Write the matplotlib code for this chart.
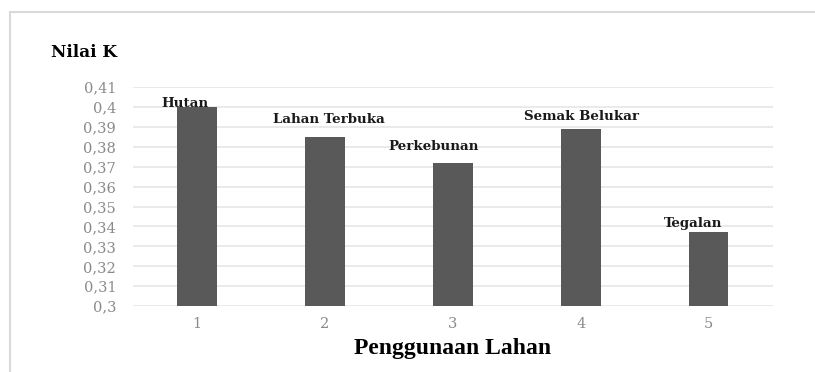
import matplotlib
matplotlib.use('Agg')
import matplotlib.pyplot as plt
from matplotlib.lines import Line2D

# data
kategori = [1, 2, 3, 4, 5]
label_bar = ['Hutan', 'Lahan Terbuka', 'Perkebunan', 'Semak Belukar', 'Tegalan']
nilai_k = [0.400, 0.385, 0.372, 0.389, 0.337]
yticks = [0.30, 0.31, 0.32, 0.33, 0.34, 0.35, 0.36, 0.37, 0.38, 0.39, 0.40, 0.41]
ytick_labels = ['0,3', '0,31', '0,32', '0,33', '0,34', '0,35', '0,36', '0,37',
                '0,38', '0,39', '0,4', '0,41']

# geseran label (posisi manual seperti di excel)
geser_x = [-0.09, 0.03, -0.15, 0.01, -0.12]
geser_y = [-0.0013, 0.0055, 0.005, 0.003, 0.001]

serif = 'Liberation Serif'
lebar = 'DejaVu Serif'

fig = plt.figure(figsize=(8.15, 3.72), dpi=100)
ax = fig.add_axes([0.163, 0.177, 0.785, 0.589])

ax.bar(kategori, [v - 0.3 for v in nilai_k], bottom=0.3, width=0.31,
       color='#595959', zorder=3)

# label kategori di atas batang
for x, v, t, dx, dy in zip(kategori, nilai_k, label_bar, geser_x, geser_y):
    ax.text(x + dx, v + dy, t, ha='center', va='bottom', fontsize=9.6,
            fontweight='bold', family=lebar, color='#1a1a1a', zorder=4)

ax.set_xlim(0.5, 5.5)
ax.set_ylim(0.3, 0.41)
ax.set_yticks(yticks)
ax.set_yticklabels(ytick_labels)
ax.set_xticks(kategori)
ax.tick_params(length=0, labelsize=10.5, labelcolor='#8a8a8a')
for lb in ax.get_xticklabels() + ax.get_yticklabels():
    lb.set_family(lebar)
ax.tick_params(axis='x', pad=8)
ax.tick_params(axis='y', pad=12)

ax.grid(axis='y', color='#e6e6e6', linewidth=1.2, zorder=0)
for s in ax.spines.values():
    s.set_visible(False)

ax.set_xlabel('Penggunaan Lahan', fontsize=17, fontweight='bold',
              family=serif, labelpad=5)
fig.text(0.062, 0.86, 'Nilai K', fontsize=12.2, fontweight='bold',
         family=lebar, ha='left', va='center')

# bingkai tipis
fig.add_artist(Line2D([0.012, 1.0], [0.967, 0.967], transform=fig.transFigure,
                      color='#d9d9d9', linewidth=1.5))
fig.add_artist(Line2D([0.012, 0.012], [0.0, 0.967], transform=fig.transFigure,
                      color='#d9d9d9', linewidth=1.5))

fig.savefig('out.png', dpi=100)
